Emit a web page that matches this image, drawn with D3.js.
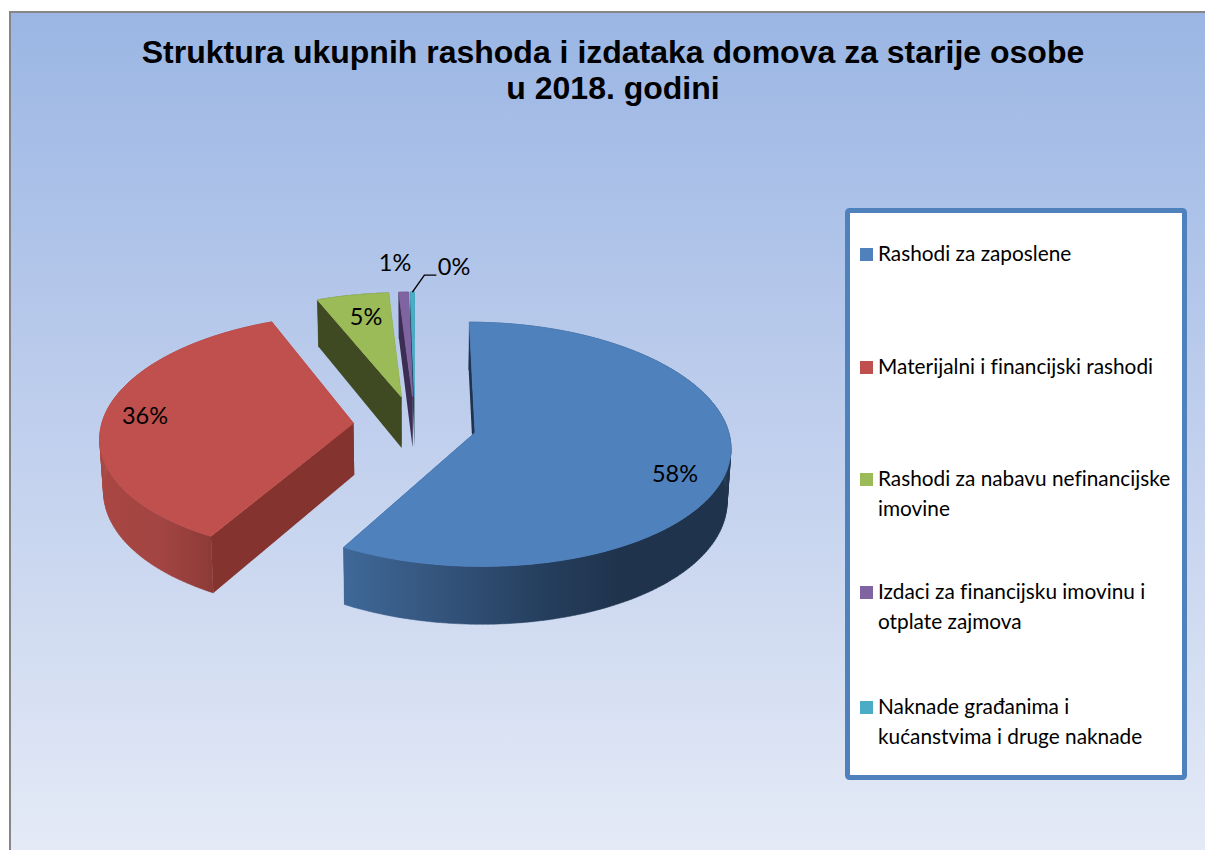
<!DOCTYPE html>
<html><head><meta charset="utf-8">
<script src="https://cdnjs.cloudflare.com/ajax/libs/d3/7.8.5/d3.min.js"></script>
<style>html,body{margin:0;padding:0;background:#fff;overflow:hidden}svg{display:block}</style>
</head><body><svg id="c" width="1205" height="850"></svg>
<script>
const titleLines = ["Struktura ukupnih rashoda i izdataka domova za starije osobe", "u 2018. godini"];
const categories = ["Rashodi za zaposlene", "Materijalni i financijski rashodi", "Rashodi za nabavu nefinancijske imovine", "Izdaci za financijsku imovinu i otplate zajmova", "Naknade građanima i kućanstvima i druge naknade"];
const legendLines = [["Rashodi za zaposlene"], ["Materijalni i financijski rashodi"], ["Rashodi za nabavu nefinancijske", "imovine"], ["Izdaci za financijsku imovinu i", "otplate zajmova"], ["Naknade građanima i", "kućanstvima i druge naknade"]];
const values = [58.2, 35.6, 5.2, 0.7, 0.3];
const labels = ["58%", "36%", "5%", "1%", "0%"];
const colors = ["#4f81bd", "#c0504d", "#9bbb59", "#8064a2", "#4bacc6"];
const wallColors = ["#1f334c", "#85332f", "#404a22", "#3c2d52", "#1f4a57"];

const svg = d3.select("#c");
const defs = svg.append("defs");
const bg = defs.append("linearGradient").attr("id","bg").attr("x1",0).attr("y1",0).attr("x2",0).attr("y2",1);
[[0,"#9bb6e4"],[0.5,"#c0cfed"],[1,"#e4eaf6"]].forEach(s=>bg.append("stop").attr("offset",s[0]).attr("stop-color",s[1]));
const gradU = (id, stops) => {
  const g = defs.append("linearGradient").attr("id",id).attr("gradientUnits","userSpaceOnUse")
    .attr("x1",100).attr("x2",731).attr("y1",0).attr("y2",0);
  stops.forEach(s=>g.append("stop").attr("offset",(s[0]-100)/631).attr("stop-color",s[1]));
};
gradU("rimBlue", [[344,"#3f6898"],[440,"#34547c"],[540,"#263f5f"],[620,"#1f334c"],[731,"#1f334c"]]);
gradU("rimRed", [[100,"#a84642"],[160,"#a34542"],[212,"#8d3b38"]]);

svg.append("rect").attr("x",10).attr("y",12).attr("width",1195).attr("height",838).attr("fill","url(#bg)");
svg.append("path").attr("d","M10,850V12H1205").attr("fill","none").attr("stroke","#868686").attr("stroke-width",2);

const title = svg.append("g").attr("font-family","'Liberation Sans',Arial,sans-serif").attr("font-weight","bold").attr("font-size",32).attr("text-anchor","middle").attr("fill","#000");
title.selectAll("text").data(titleLines).join("text").attr("x",613).attr("y",(d,i)=>63+i*36).text(d=>d);

// 3-D projection parameters
const KY = 0.096, KX = 0.105, EXPLODE = 0.245, DEPTH = 52, TAPER = 0.012;
const CX = 415, CY = 425;
const xScale = d3.scaleLinear().domain([-1,1]).range([CX-252,CX+252]);
const yScale = d3.scaleLinear().domain([-1,1]).range([CY-119.5,CY+119.5]);
const project = (u,v,low) => {
  const sx = 1/(1-KX*v), sy = 1/(1-KY*v);
  const x = xScale(u*sx), y = yScale(v*sy);
  return low ? [CX+(x-CX)*(1-TAPER), y+DEPTH*sy] : [x,y];
};
const pie = d3.pie().sort(null).value(d=>d).startAngle(0).endAngle(2*Math.PI);
const arcs = pie(values);
const line = d3.line();

const sliceG = svg.append("g");
arcs.map((a,i)=>({a,i})).reverse().forEach(({a,i})=>{
  const mid=(a.startAngle+a.endAngle)/2;
  const ou=EXPLODE*Math.sin(mid), ov=-EXPLODE*Math.cos(mid);
  const n=Math.max(2,Math.ceil((a.endAngle-a.startAngle)/0.02));
  const angles=d3.range(n+1).map(k=>a.startAngle+(a.endAngle-a.startAngle)*k/n);
  const rim=angles.map(t=>[ou+Math.sin(t),ov-Math.cos(t)]);
  const top=rim.map(p=>project(p[0],p[1],false));
  const low=rim.map(p=>project(p[0],p[1],true));
  const aT=project(ou,ov,false), aL=project(ou,ov,true);
  const g=sliceG.append("g");
  const rimFill = i===0?"url(#rimBlue)":i===1?"url(#rimRed)":wallColors[i];
  g.append("path").attr("d",line([aT,top[n],low[n],aL])+"Z").attr("fill",wallColors[i]);
  const quads=d3.range(n).map(k=>line([top[k],top[k+1],low[k+1],low[k]])+"Z").join("");
  g.append("path").attr("d",quads).attr("fill",rimFill).attr("stroke",rimFill).attr("stroke-width",0.5);
  g.append("path").attr("d",line([aT,top[0],low[0],aL])+"Z").attr("fill",wallColors[i]);
  g.append("path").attr("d",line([aT].concat(top))+"Z").attr("fill",colors[i]).attr("stroke",colors[i]).attr("stroke-width",0.9);
});

// leader line for the smallest slice
const last=arcs[4], lm=(last.startAngle+last.endAngle)/2;
const lp=project((1+EXPLODE)*Math.sin(lm),-(1+EXPLODE)*Math.cos(lm),false);
svg.append("path").attr("d",line([lp,[lp[0]+12,lp[1]-17],[lp[0]+24,lp[1]-17]])).attr("fill","none").attr("stroke","#000").attr("stroke-width",1.4);

const labelPos=[[675,482],[145,424],[366,325],[395,271],[454,275]];
svg.append("g").attr("font-family","Lato,sans-serif").attr("font-size",23.5).attr("text-anchor","middle").attr("fill","#000")
  .selectAll("text").data(labels).join("text").attr("x",(d,i)=>labelPos[i][0]).attr("y",(d,i)=>labelPos[i][1]).text(d=>d);

// legend
svg.append("rect").attr("x",847.5).attr("y",210.5).attr("width",337).attr("height",567).attr("rx",2).attr("fill","#fff").attr("stroke","#4f81bd").attr("stroke-width",5);
const rowYs=[261,374,486,599,714];
const lg=svg.append("g").attr("font-family","Lato,sans-serif").attr("font-size",20.8).attr("fill","#000").style("font-variant-ligatures","none");
categories.forEach((c,i)=>{
  lg.append("rect").attr("x",860).attr("y",rowYs[i]-13).attr("width",13).attr("height",13).attr("fill",colors[i]);
  legendLines[i].forEach((t,j)=>lg.append("text").attr("x",878).attr("y",rowYs[i]+j*30).text(t));
});
</script></body></html>
